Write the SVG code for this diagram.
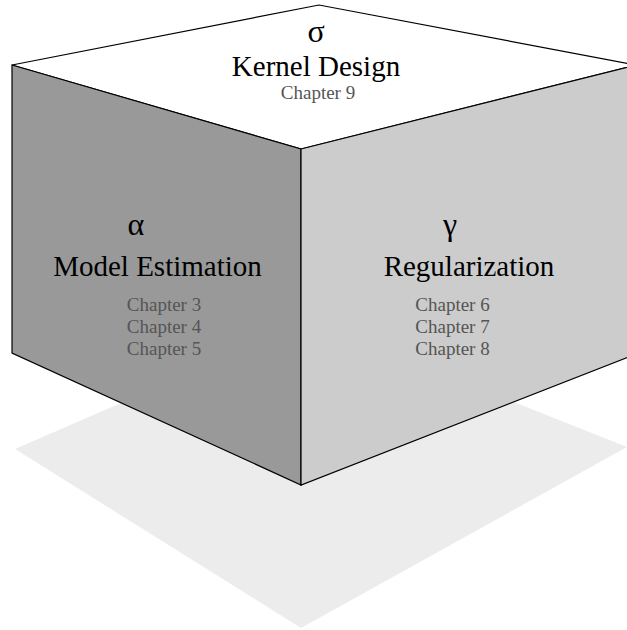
<svg xmlns="http://www.w3.org/2000/svg" width="627" height="630" viewBox="0 0 627 630">
  <style>
    .face { stroke: #000; stroke-width: 1.2; stroke-linejoin: miter; }
    .greek { font-family: 'Liberation Serif', serif; font-size: 32px; fill: #000; text-anchor: middle; }
    .title { font-family: 'Liberation Serif', serif; font-size: 29px; fill: #000; text-anchor: middle; }
    .chap { font-family: 'Liberation Serif', serif; font-size: 19px; fill: #555; text-anchor: middle; }
  </style>
  <rect width="627" height="630" fill="#fff"/>

  <!-- cast shadow under the cube -->
  <polygon id="shadow" points="15,449 310,321 627,447 301,628" fill="#ececec"/>

  <!-- top face: Kernel Design -->
  <g id="top-face">
    <polygon class="face" points="12,65 319,5 636,65 301,149" fill="#fff"/>
    <text class="greek" x="316" y="42">σ</text>
    <text class="title" x="316" y="76">Kernel Design</text>
    <text class="chap" x="318" y="99">Chapter 9</text>
  </g>

  <!-- left face: Model Estimation -->
  <g id="left-face">
    <polygon class="face" points="12,65 301,149 301,485 12,353" fill="#999"/>
    <text class="greek" x="136" y="235">α</text>
    <text class="title" x="157.5" y="276">Model Estimation</text>
    <text class="chap" x="164" y="311">Chapter 3</text>
    <text class="chap" x="164" y="333">Chapter 4</text>
    <text class="chap" x="164" y="355">Chapter 5</text>
  </g>

  <!-- right face: Regularization -->
  <g id="right-face">
    <polygon class="face" points="301,149 636,65 636,354 301,485" fill="#ccc"/>
    <text class="greek" x="450" y="235">γ</text>
    <text class="title" x="469" y="276">Regularization</text>
    <text class="chap" x="452.5" y="311">Chapter 6</text>
    <text class="chap" x="452.5" y="333">Chapter 7</text>
    <text class="chap" x="452.5" y="355">Chapter 8</text>
  </g>

  <g id="connectors"/>
</svg>
